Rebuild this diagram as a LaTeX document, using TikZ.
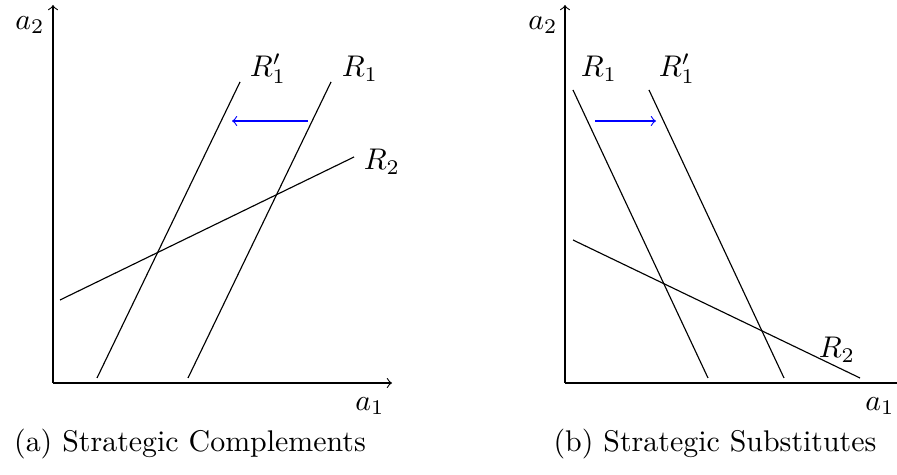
\documentclass[tikz,border=0pt]{standalone}
\usetikzlibrary{positioning}
\begin{document}
\begin{tikzpicture}[x=0.351pt, y=0.351pt, >=to, every node/.style={inner sep=1pt, scale=1.05}]
	\useasboundingbox (0,0) rectangle (897,475);
	% (a) 互补: 坐标轴
	\coordinate (oa) at (53,92);
	\coordinate (ya) at (53,470);
	\coordinate (xa) at (392,92);
	\draw[->] (oa) -- (ya);
	\draw[->] (oa) -- (xa);
	\node (a2a) at (30,450) {$a_2$};
	\node (a1a) at (370,69) {$a_1$};
	
	% 反应曲线
	\coordinate (r1pa0) at (97,97);  \coordinate (r1pa1) at (240,393);
	\coordinate (r1a0) at (188,97);  \coordinate (r1a1) at (331,393);
	\coordinate (r2a0) at (60,175);  \coordinate (r2a1) at (354,318);
	\draw (r1pa0) -- (r1pa1);
	\draw (r1a0) -- (r1a1);
	\draw (r2a0) -- (r2a1);
	\node (lr1pa) at (268,406) {$R_1'$};
	\node (lr1a) at (360,406) {$R_1$};
	\node (lr2a) at (382,313) {$R_2$};
	
	% 移动箭头
	\coordinate (sa0) at (308,354); \coordinate (sa1) at (232,354);
	\draw[->, blue] (sa0) -- (sa1);
	\node (capa) at (190,31) {(a) Strategic Complements};
	
	% (b) 替代: 坐标轴
	\coordinate (ob) at (565,92);
	\coordinate (yb) at (565,470);
	\coordinate (xb) at (897,92);
	\draw[->] (ob) -- (yb);
	\draw (ob) -- (xb);
	\node (a2b) at (543,450) {$a_2$};
	\node (a1b) at (880,69) {$a_1$};
	
	% 反应曲线
	\coordinate (r1b0) at (573,385);  \coordinate (r1b1) at (708,97);
	\coordinate (r1pb0) at (649,385); \coordinate (r1pb1) at (784,97);
	\coordinate (r2b0) at (573,235);  \coordinate (r2b1) at (860,97);
	\draw (r1b0) -- (r1b1);
	\draw (r1pb0) -- (r1pb1);
	\draw (r2b0) -- (r2b1);
	\node (lr1b) at (599,406) {$R_1$};
	\node (lr1pb) at (677,406) {$R_1'$};
	\node (lr2b) at (837,125) {$R_2$};
	
	% 移动箭头
	\coordinate (sb0) at (595,354); \coordinate (sb1) at (656,354);
	\draw[->, blue] (sb0) -- (sb1);
	\node (capb) at (715,31) {(b) Strategic Substitutes};
\end{tikzpicture}
\end{document}
